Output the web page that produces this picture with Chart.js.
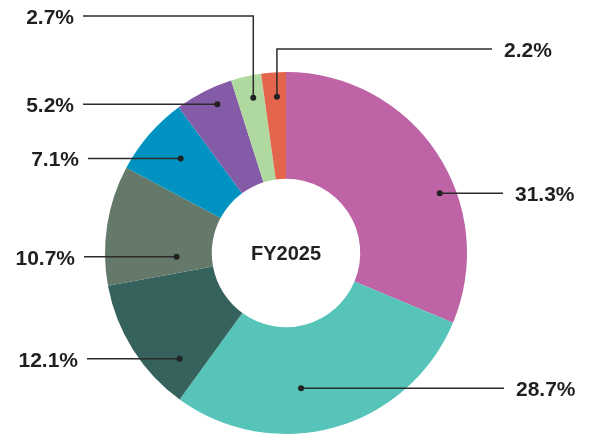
<!DOCTYPE html>
<html>
<head>
<meta charset="UTF-8" />
<script src="https://cdn.jsdelivr.net/npm/chart.js@4"></script>
<style>
  body { margin: 0; background: #fff; }
  #wrap { width: 590px; height: 435px; }
</style>
</head>
<body>
<div id="wrap"><canvas id="chart" width="590" height="435"></canvas></div>
<script>
// Slice values (percent), clockwise from 12 o'clock.
const labels = ['31.3%', '28.7%', '12.1%', '10.7%', '7.1%', '5.2%', '2.7%', '2.2%'];
const values = [31.3, 28.7, 12.1, 10.7, 7.1, 5.2, 2.7, 2.2];
const colors = ['#bd63a6', '#57c4b9', '#35625c', '#64796a', '#0093c2', '#845ba6', '#b0d9a0', '#e3654c'];
const centerLabel = 'FY2025';

// Callout layout: where the dot sits inside its slice (angle / radial fraction),
// which side the label goes, optional elbow height, end of the leader line.
const callouts = [
  { af: 0.61, rf: 0.85, side: 'right', elbowY: null, endX: 503 },
  { af: 0.59, rf: 0.58, side: 'right', elbowY: null, endX: 504 },
  { af: 0.21, rf: 0.71, side: 'left', elbowY: null, endX: 87 },
  { af: 0.22, rf: 0.33, side: 'left', elbowY: null, endX: 84 },
  { af: 0.54, rf: 0.63, side: 'left', elbowY: null, endX: 88 },
  { af: 0.62, rf: 0.84, side: 'left', elbowY: null, endX: 83 },
  { af: 0.59, rf: 0.79, side: 'left', elbowY: 16, endX: 83 },
  { af: 0.58, rf: 0.77, side: 'right', elbowY: 49, endX: 492 },
];

const calloutPlugin = {
  id: 'callouts',
  afterDatasetsDraw(chart) {
    const ctx = chart.ctx;
    const arcs = chart.getDatasetMeta(0).data;
    ctx.save();
    arcs.forEach((arc, i) => {
      const c = callouts[i];
      const p = arc.getProps(['x', 'y', 'startAngle', 'endAngle', 'innerRadius', 'outerRadius'], true);
      const a = p.startAngle + (p.endAngle - p.startAngle) * c.af;
      const r = p.innerRadius + (p.outerRadius - p.innerRadius) * c.rf;
      const dx = p.x + Math.cos(a) * r;
      const dy = p.y + Math.sin(a) * r;
      const ly = c.elbowY == null ? dy : c.elbowY;

      ctx.strokeStyle = '#2b2b2b';
      ctx.lineWidth = 1.5;
      ctx.beginPath();
      ctx.moveTo(dx, dy);
      if (c.elbowY != null) ctx.lineTo(dx, ly);
      ctx.lineTo(c.endX, ly);
      ctx.stroke();

      ctx.fillStyle = '#222';
      ctx.beginPath();
      ctx.arc(dx, dy, 3, 0, Math.PI * 2);
      ctx.fill();

      ctx.font = 'bold 21px "Liberation Sans", Arial, sans-serif';
      ctx.textBaseline = 'middle';
      ctx.fillStyle = '#231f20';
      if (c.side === 'right') {
        ctx.textAlign = 'left';
        ctx.fillText(labels[i], c.endX + 12, ly + 2);
      } else {
        ctx.textAlign = 'right';
        ctx.fillText(labels[i], c.endX - 9, ly + 2);
      }
    });

    const p0 = arcs[0];
    ctx.font = 'bold 20px "Liberation Sans", Arial, sans-serif';
    ctx.textAlign = 'center';
    ctx.textBaseline = 'middle';
    ctx.fillStyle = '#231f20';
    ctx.fillText(centerLabel, p0.x, p0.y + 1);
    ctx.restore();
  },
};

new Chart(document.getElementById('chart'), {
  type: 'doughnut',
  data: {
    labels,
    datasets: [{
      data: values,
      backgroundColor: colors,
      borderWidth: 0,
    }],
  },
  options: {
    responsive: false,
    animation: false,
    cutout: '41%',
    layout: { padding: { left: 105, right: 123, top: 72, bottom: 1 } },
    plugins: { legend: { display: false }, tooltip: { enabled: false } },
  },
  plugins: [calloutPlugin],
});
</script>
</body>
</html>
